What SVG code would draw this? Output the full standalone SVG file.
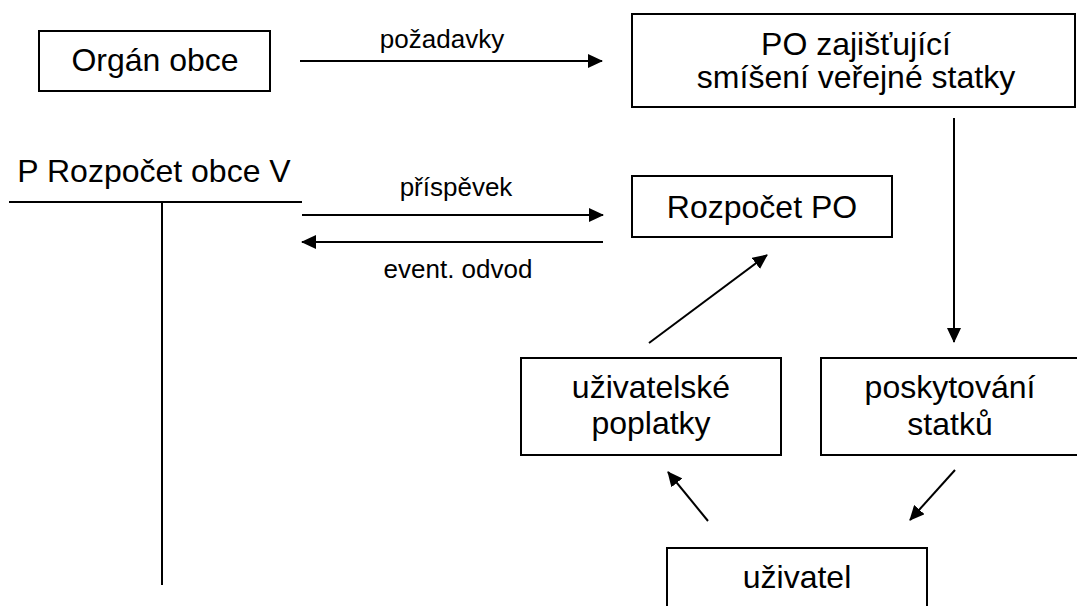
<svg xmlns="http://www.w3.org/2000/svg" width="1077" height="606" viewBox="0 0 1077 606">
<style>
.box{fill:#fff;stroke:#000;stroke-width:2}
.t{font-family:"Liberation Sans",Arial,sans-serif;font-size:32px;fill:#000;text-anchor:middle}
.l{font-family:"Liberation Sans",Arial,sans-serif;font-size:26px;fill:#000;text-anchor:middle}
.c{stroke:#000;stroke-width:2;fill:none}
</style>
<defs>
<marker id="ah" viewBox="0 0 15 14" refX="14" refY="7" markerWidth="15" markerHeight="14" markerUnits="userSpaceOnUse" orient="auto">
<path d="M0,0 L15,7 L0,14 z" fill="#000"/>
</marker>
</defs>
<rect width="1077" height="606" fill="#fff"/>
<g id="organ-obce"><rect class="box" x="39" y="31" width="231" height="60"/><text class="t" x="155" y="71">Orgán obce</text></g>
<g id="po-zajistujici"><rect class="box" x="632" y="14" width="443" height="93"/><text class="t" x="856" y="55">PO zajišťující</text><text class="t" x="856" y="88">smíšení veřejné statky</text></g>
<g id="rozpocet-obce"><text class="t" x="154" y="182">P Rozpočet obce V</text><line class="c" x1="9" y1="202" x2="302" y2="202"/><line class="c" x1="162" y1="202" x2="162" y2="585"/></g>
<g id="rozpocet-po"><rect class="box" x="632" y="176" width="260" height="61"/><text class="t" x="762" y="218">Rozpočet PO</text></g>
<g id="uzivatelske-poplatky"><rect class="box" x="521" y="358" width="260" height="97"/><text class="t" x="651" y="398">uživatelské</text><text class="t" x="651" y="434">poplatky</text></g>
<g id="poskytovani-statku"><rect class="box" x="821" y="358" width="262" height="97"/><text class="t" x="950" y="398">poskytování</text><text class="t" x="950" y="435">statků</text></g>
<g id="uzivatel"><rect class="box" x="667" y="548" width="260" height="72"/><text class="t" x="797" y="588">uživatel</text></g>
<g id="connectors">
<line class="c" x1="300" y1="61" x2="602" y2="61" marker-end="url(#ah)"/>
<text class="l" x="442" y="48">požadavky</text>
<line class="c" x1="302" y1="215" x2="603" y2="215" marker-end="url(#ah)"/>
<text class="l" x="456" y="196">příspěvek</text>
<line class="c" x1="603" y1="242" x2="302" y2="242" marker-end="url(#ah)"/>
<text class="l" x="458" y="278">event. odvod</text>
<line class="c" x1="954" y1="118" x2="954" y2="342" marker-end="url(#ah)"/>
<line class="c" x1="649" y1="343" x2="767" y2="255" marker-end="url(#ah)"/>
<line class="c" x1="708" y1="521" x2="668" y2="472" marker-end="url(#ah)"/>
<line class="c" x1="955" y1="470" x2="910" y2="520" marker-end="url(#ah)"/>
</g>
</svg>
